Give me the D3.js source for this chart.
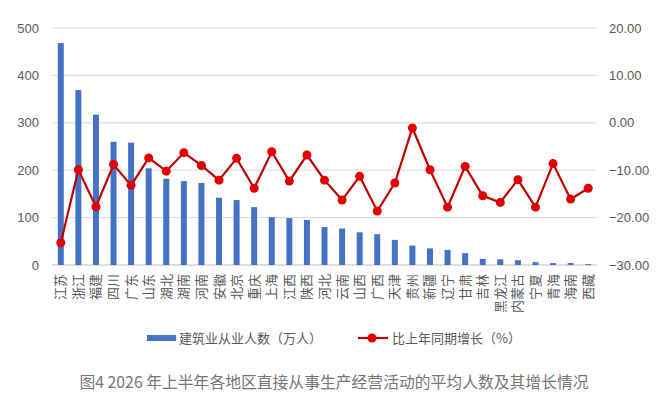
<!DOCTYPE html>
<html><head><meta charset="utf-8">
<script src="https://cdn.jsdelivr.net/npm/d3@7"></script>
<style>
body{margin:0;background:#fff;}
svg{display:block;font-family:"Noto Sans CJK SC","Noto Sans",sans-serif;}
</style></head>
<body><svg id="c" width="659" height="406"></svg>
<script>
const categories = ["江苏","浙江","福建","四川","广东","山东","湖北","湖南","河南","安徽","北京","重庆","上海","江西","陕西","河北","云南","山西","广西","天津","贵州","新疆","辽宁","甘肃","吉林","黑龙江","内蒙古","宁夏","青海","海南","西藏"];
const workers = [468,369,317,260,258,204,182,177,173,142,137,122,101,99,95,80,77,69,65,53,41,35,32,25,13,12,10,6,4,4,2];
const growth = [-25.3,-9.9,-17.7,-8.8,-13.2,-7.4,-10.2,-6.3,-9.0,-12.1,-7.5,-13.8,-6.1,-12.3,-6.8,-12.1,-16.3,-11.3,-18.6,-12.7,-1.1,-9.9,-17.8,-9.2,-15.4,-16.8,-12.0,-17.8,-8.6,-16.1,-13.8];
const leftTicks = [0,100,200,300,400,500];
const rightTicks = [-30,-20,-10,0,10,20];
const seriesNames = ["建筑业从业人数（万人）","比上年同期增长（%）"];
const title = "图4 2026 年上半年各地区直接从事生产经营活动的平均人数及其增长情况";

const svg = d3.select("#c");
const L = 52, R = 597, T = 28, B = 265;
const x = d3.scaleBand().domain(categories).range([L, R]).paddingInner(0.66).paddingOuter(0.33);
const yL = d3.scaleLinear().domain([0,500]).range([B,T]);
const yR = d3.scaleLinear().domain([-30,20]).range([B,T]);
const textColor = "#595959";

// gridlines
svg.append("g").selectAll("line").data(leftTicks).join("line")
  .attr("x1",L).attr("x2",R).attr("y1",d=>yL(d)).attr("y2",d=>yL(d))
  .attr("stroke",d=>d===0?"#bfbfbf":"#d9d9d9").attr("stroke-width",1);

// left axis
const gl = svg.append("g").attr("transform",`translate(${L},0)`)
  .call(d3.axisLeft(yL).tickValues(leftTicks).tickSize(0).tickPadding(13));
gl.select(".domain").remove();
gl.selectAll("text").attr("fill",textColor).style("font-size","13px").style("font-family","'Liberation Sans','Noto Sans',sans-serif");

// right axis
const gr = svg.append("g").attr("transform",`translate(${R},0)`)
  .call(d3.axisRight(yR).tickValues(rightTicks).tickSize(0).tickPadding(12).tickFormat(d3.format(".2f")));
gr.select(".domain").remove();
gr.selectAll("text").attr("fill",textColor).style("font-size","13px").style("font-family","'Liberation Sans','Noto Sans',sans-serif");

// bars
svg.append("g").selectAll("rect").data(workers).join("rect")
  .attr("x",(d,i)=>x(categories[i])).attr("width",x.bandwidth())
  .attr("y",d=>yL(d)).attr("height",d=>B-yL(d)).attr("fill","#4472C4");

// line
const cx = (i)=>x(categories[i])+x.bandwidth()/2;
svg.append("path").datum(growth)
  .attr("d",d3.line().x((d,i)=>cx(i)).y(d=>yR(d)))
  .attr("fill","none").attr("stroke","#C00000").attr("stroke-width",2.2);
svg.append("g").selectAll("circle").data(growth).join("circle")
  .attr("cx",(d,i)=>cx(i)).attr("cy",d=>yR(d)).attr("r",4.5).attr("fill","#E00000");

// category labels (rotated)
svg.append("g").selectAll("text").data(categories).join("text")
  .attr("transform",(d,i)=>`translate(${cx(i)+4.5},274) rotate(-90)`)
  .attr("text-anchor","end").attr("fill",textColor).style("font-size","13px")
  .text(d=>d);

// legend
const lg = svg.append("g");
lg.append("rect").attr("x",147).attr("y",335).attr("width",29).attr("height",6).attr("fill","#4472C4");
lg.append("text").attr("x",179).attr("y",338).attr("dy","0.35em").attr("fill",textColor).style("font-size","13px").text(seriesNames[0]);
lg.append("line").attr("x1",358).attr("x2",388).attr("y1",338).attr("y2",338).attr("stroke","#C00000").attr("stroke-width",2.2);
lg.append("circle").attr("cx",372).attr("cy",338).attr("r",4.5).attr("fill","#E00000");
lg.append("text").attr("x",392).attr("y",338).attr("dy","0.35em").attr("fill",textColor).style("font-size","13px").text(seriesNames[1]);

// title
svg.append("text").attr("x",334).attr("y",382).attr("dy","0.35em").attr("text-anchor","middle")
  .attr("fill","#767676").style("font-size","15.8px").text(title);
</script></body></html>
